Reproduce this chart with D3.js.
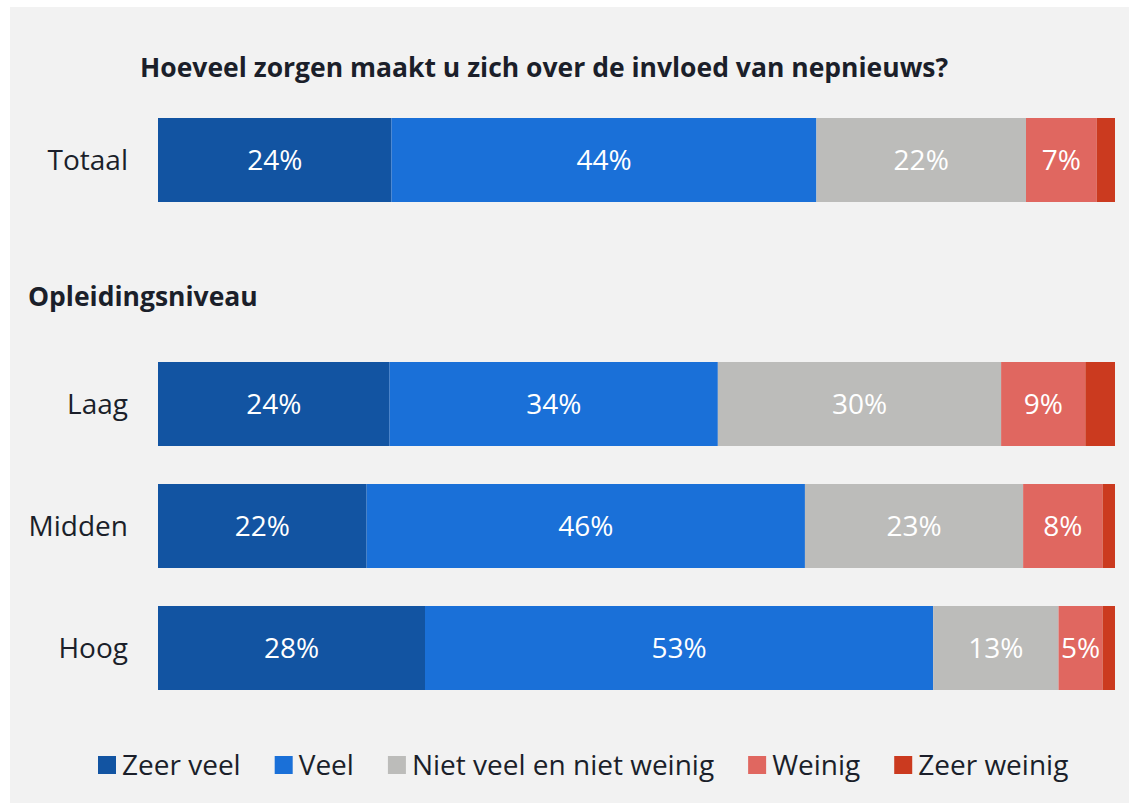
<!DOCTYPE html>
<html>
<head>
<meta charset="utf-8">
<script src="https://cdn.jsdelivr.net/npm/d3@7"></script>
<style>
  body { margin: 0; background: #ffffff; }
  text { font-family: "Open Sans", sans-serif; }
</style>
</head>
<body>
<div id="chart"></div>
<script>
// rows in the chart; "Opleidingsniveau" is a header row without a bar
const rows = ["Totaal", "Opleidingsniveau", "Laag", "Midden", "Hoog"];
const groups = ["Totaal", "Laag", "Midden", "Hoog"];
const answers = ["Zeer veel", "Veel", "Niet veel en niet weinig", "Weinig", "Zeer weinig"];
const colors = ["#1254a2", "#1a70d8", "#bcbcba", "#e06760", "#cb3a1f"];

// percentages per group, in the order of answers
const zeerVeel   = [24.4, 24.2, 21.8, 27.9];
const veel       = [44.4, 34.3, 45.8, 53.1];
const nietVeel   = [21.9, 29.6, 22.8, 13.1];
const weinig     = [7.4, 8.8, 8.3, 4.6];
const zeerWeinig = [1.9, 3.1, 1.3, 1.3];

const title = "Hoeveel zorgen maakt u zich over de invloed van nepnieuws?";

const width = 1129, height = 803;

const table = groups.map((g, i) => ({
    group: g,
    "Zeer veel": zeerVeel[i],
    "Veel": veel[i],
    "Niet veel en niet weinig": nietVeel[i],
    "Weinig": weinig[i],
    "Zeer weinig": zeerWeinig[i]
}));

const stacked = d3.stack().keys(answers)(table);

const svg = d3.select('#chart')
    .append('svg')
    .attr('width', width)
    .attr('height', height);

svg.append('rect')
    .attr('x', 10)
    .attr('y', 7)
    .attr('width', width - 10)
    .attr('height', height - 7)
    .attr('fill', '#f2f2f2');

const x = d3.scaleLinear()
    .domain([0, 100])
    .range([158, 1115]);

const y = d3.scaleBand()
    .domain(rows)
    .range([118, 690])
    .paddingInner(0.3115)
    .paddingOuter(0);

const color = d3.scaleOrdinal()
    .domain(answers)
    .range(colors);

svg.append('text')
    .attr('x', 140)
    .attr('y', 77)
    .attr('font-size', 26.5)
    .attr('font-weight', 'bold')
    .attr('fill', '#1b1f2a')
    .text(title);

// header for the education rows
svg.append('text')
    .attr('x', 28)
    .attr('y', y('Opleidingsniveau') + y.bandwidth() / 2 + 24)
    .attr('font-size', 26.5)
    .attr('font-weight', 'bold')
    .attr('fill', '#1b1f2a')
    .text('Opleidingsniveau');

const layers = svg.append('g')
    .selectAll('g')
    .data(stacked)
    .join('g')
    .attr('fill', d => color(d.key));

layers.selectAll('rect')
    .data(d => d)
    .join('rect')
    .attr('x', d => x(d[0]))
    .attr('y', d => y(d.data.group))
    .attr('width', d => x(d[1]) - x(d[0]))
    .attr('height', y.bandwidth());

layers.selectAll('text')
    .data(d => d.filter(p => p[1] - p[0] >= 4))
    .join('text')
    .attr('x', d => (x(d[0]) + x(d[1])) / 2)
    .attr('y', d => y(d.data.group) + y.bandwidth() / 2)
    .attr('dy', '0.35em')
    .attr('text-anchor', 'middle')
    .attr('font-size', 28)
    .attr('fill', '#ffffff')
    .text(d => Math.round(d[1] - d[0]) + '%');

// category labels
svg.append('g')
    .selectAll('text')
    .data(groups)
    .join('text')
    .attr('x', 128)
    .attr('y', d => y(d) + y.bandwidth() / 2)
    .attr('dy', '0.35em')
    .attr('text-anchor', 'end')
    .attr('font-size', 28)
    .attr('fill', '#1b1f2a')
    .text(d => d);

// legend
const legend = svg.append('g')
    .attr('transform', 'translate(98, 765)');

let lx = 0;
answers.forEach(a => {
    const item = legend.append('g')
        .attr('transform', `translate(${lx}, 0)`);
    item.append('rect')
        .attr('x', 0)
        .attr('y', -9)
        .attr('width', 18)
        .attr('height', 18)
        .attr('fill', color(a));
    const t = item.append('text')
        .attr('x', 24)
        .attr('dy', '0.35em')
        .attr('font-size', 28)
        .attr('fill', '#1b1f2a')
        .text(a);
    lx += 24 + t.node().getComputedTextLength() + 34;
});
</script>
</body>
</html>
